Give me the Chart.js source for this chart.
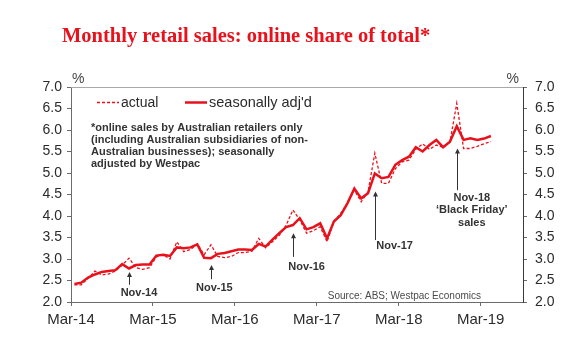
<!DOCTYPE html>
<html>
<head>
<meta charset="utf-8">
<script src="https://cdn.jsdelivr.net/npm/chart.js@4.4.1/dist/chart.umd.min.js"></script>
<style>
  html, body { margin: 0; padding: 0; background: #fff; }
  #wrap { width: 580px; height: 352px; }
</style>
</head>
<body>
<div id="wrap"><canvas id="onlineShare" width="580" height="352"></canvas></div>
<script>
// Online share of total retail sales, monthly from Mar-14 to Apr-19 (%).
const ACTUAL = [
  2.40, 2.40, 2.55, 2.72, 2.63, 2.65, 2.72, 2.86, 3.02, 2.80, 2.76, 2.80,
  3.05, 3.10, 3.00, 3.40, 3.17, 3.22, 3.35, 3.10, 3.33, 3.06, 3.03, 3.06,
  3.15, 3.15, 3.18, 3.48, 3.26, 3.40, 3.55, 3.78, 4.14, 3.91, 3.60, 3.66,
  3.75, 3.40, 3.87, 4.06, 4.30, 4.60, 4.33, 4.56, 5.46, 4.76, 4.76, 5.10,
  5.26, 5.30, 5.55, 5.68, 5.55, 5.65, 5.60, 5.72, 6.62, 5.57, 5.57, 5.62,
  5.68, 5.73
];
const SEAS_ADJ = [
  2.42, 2.45, 2.57, 2.64, 2.70, 2.72, 2.74, 2.88, 2.78, 2.86, 2.87, 2.87,
  3.08, 3.10, 3.07, 3.27, 3.25, 3.27, 3.34, 3.03, 3.02, 3.12, 3.14, 3.18,
  3.22, 3.22, 3.21, 3.35, 3.29, 3.45, 3.60, 3.74, 3.79, 3.95, 3.69, 3.74,
  3.83, 3.48, 3.87, 4.02, 4.30, 4.64, 4.41, 4.53, 4.99, 4.88, 4.91, 5.19,
  5.30, 5.38, 5.60, 5.50, 5.65, 5.77, 5.60, 5.73, 6.09, 5.77, 5.81, 5.77,
  5.80, 5.86
];
const X_TICK_MONTHS = [0, 12, 24, 36, 48, 60];
const X_TICK_LABELS = ["Mar-14", "Mar-15", "Mar-16", "Mar-17", "Mar-18", "Mar-19"];
const Y_MIN = 2.0;
const Y_MAX = 7.0;
const Y_STEP = 0.5;
// November spikes called out on the chart (month index from Mar-14).
const EVENT_MONTHS = [8, 20, 32, 44, 56];
const EVENT_LABELS = [["Nov-14"], ["Nov-15"], ["Nov-16"], ["Nov-17"], ["Nov-18", "\u2018Black Friday\u2019", "sales"]];

// Annotation placement, in axis units (months, %).
const EVENT_LAYOUT = [
  { textX: 9.96, textY: 2.20, tip: 2.70, tail: 2.40 },
  { textX: 21.0, textY: 2.32, tip: 2.86, tail: 2.53 },
  { textX: 34.5, textY: 2.81, tip: 3.60, tail: 3.05 },
  { textX: 47.4, textY: 3.30, tip: 4.57, tail: 3.44 },
  { textX: 58.7, textY: 4.43, tip: 5.57, tail: 4.60 }
];

const RED = "#e8121c";
const INK = "#2b2b2b";
const AXIS = "#6b6b6b";
const MONTH_OFFSET = 0.5; // points sit mid-month, ticks at month start
const SANS = "'Liberation Sans', Arial, sans-serif";

Chart.defaults.font.family = SANS;
Chart.defaults.color = INK;

const toPoints = (values) => values.map((v, i) => ({ x: i + MONTH_OFFSET, y: v }));

const decor = {
  id: "decor",
  afterDatasetsDraw(chart) {
    const { ctx, chartArea: area, scales: { x, y } } = chart;
    ctx.save();

    // light top frame
    ctx.strokeStyle = "#a8a8a8";
    ctx.lineWidth = 1;
    ctx.beginPath();
    ctx.moveTo(area.left, area.top + 0.5);
    ctx.lineTo(area.right, area.top + 0.5);
    ctx.stroke();

    ctx.fillStyle = RED;
    ctx.font = "bold 20.5px 'Liberation Serif', 'Times New Roman', serif";
    ctx.textBaseline = "middle";
    ctx.textAlign = "left";
    ctx.fillText("Monthly retail sales: online share of total*", 62, 37);

    ctx.fillStyle = "#444";
    ctx.font = "14px " + SANS;
    ctx.fillText("%", 72, 79);
    ctx.textAlign = "right";
    ctx.fillText("%", 519, 79);

    // legend
    ctx.strokeStyle = RED;
    ctx.lineWidth = 1.3;
    ctx.setLineDash([3, 2]);
    ctx.beginPath();
    ctx.moveTo(97, 102.5);
    ctx.lineTo(119, 102.5);
    ctx.stroke();
    ctx.setLineDash([]);
    ctx.lineWidth = 2.5;
    ctx.beginPath();
    ctx.moveTo(185, 102.5);
    ctx.lineTo(207, 102.5);
    ctx.stroke();
    ctx.fillStyle = INK;
    ctx.textAlign = "left";
    ctx.font = "14px " + SANS;
    ctx.fillText("actual", 121, 103);
    ctx.font = "14.5px " + SANS;
    ctx.fillText("seasonally adj'd", 209, 103);

    // footnote
    ctx.font = "bold 11px " + SANS;
    ctx.fillStyle = "#333";
    [
      "*online sales by Australian retailers only",
      "(including Australian subsidiaries of non-",
      "Australian businesses); seasonally",
      "adjusted by Westpac"
    ].forEach((line, i) => ctx.fillText(line, 91, 128 + i * 12));

    // source
    ctx.font = "10px " + SANS;
    ctx.fillStyle = "#4a4a4a";
    ctx.textAlign = "right";
    ctx.fillText("Source: ABS; Westpac Economics", 481, 296);

    // event arrows and labels
    ctx.strokeStyle = "#333";
    ctx.fillStyle = "#333";
    ctx.lineWidth = 1;
    EVENT_MONTHS.forEach((month, i) => {
      const lay = EVENT_LAYOUT[i];
      const ax = Math.round(x.getPixelForValue(month + MONTH_OFFSET)) + 0.5;
      const tipY = y.getPixelForValue(lay.tip);
      const tailY = y.getPixelForValue(lay.tail);
      ctx.beginPath();
      ctx.moveTo(ax, tailY);
      ctx.lineTo(ax, tipY + 4);
      ctx.stroke();
      ctx.beginPath();
      ctx.moveTo(ax, tipY);
      ctx.lineTo(ax - 2.5, tipY + 5);
      ctx.lineTo(ax + 2.5, tipY + 5);
      ctx.closePath();
      ctx.fill();

      ctx.font = "bold 11px " + SANS;
      ctx.textAlign = "center";
      const tx = x.getPixelForValue(lay.textX);
      const ty = y.getPixelForValue(lay.textY);
      EVENT_LABELS[i].forEach((line, j) => ctx.fillText(line, tx, ty + j * 12.5));
    });

    ctx.restore();
  }
};

const yTicks = (position, width, padding) => ({
  type: "linear",
  position,
  min: Y_MIN,
  max: Y_MAX,
  afterFit: (scale) => { scale.width = width; },
  grid: { drawOnChartArea: false, drawTicks: true, tickLength: 4, color: AXIS },
  border: { display: true, color: position === "left" ? AXIS : "#3a3a3a", width: 1 },
  ticks: {
    stepSize: Y_STEP,
    padding,
    color: INK,
    font: { size: 14 },
    callback: (value) => value.toFixed(1)
  }
});

new Chart(document.getElementById("onlineShare"), {
  type: "line",
  data: {
    datasets: [
      {
        label: "actual",
        data: toPoints(ACTUAL),
        borderColor: RED,
        borderWidth: 1.3,
        borderDash: [3, 2],
        pointRadius: 0,
        tension: 0,
        yAxisID: "y"
      },
      {
        label: "seasonally adj'd",
        data: toPoints(SEAS_ADJ),
        borderColor: RED,
        borderWidth: 2.5,
        pointRadius: 0,
        tension: 0,
        yAxisID: "y"
      }
    ]
  },
  options: {
    responsive: false,
    animation: false,
    devicePixelRatio: 1,
    layout: { padding: { top: 87, right: 0, bottom: 0, left: 0 } },
    plugins: {
      legend: { display: false },
      title: { display: false },
      tooltip: { enabled: false }
    },
    scales: {
      x: {
        type: "linear",
        min: 0,
        max: 66.2,
        afterFit: (scale) => { scale.height = 50; },
        afterBuildTicks: (scale) => {
          scale.ticks = X_TICK_MONTHS.map((value) => ({ value }));
        },
        grid: { drawOnChartArea: false, drawTicks: true, tickLength: 4, color: AXIS },
        border: { display: true, color: AXIS, width: 1 },
        ticks: {
          padding: 5,
          color: INK,
          font: { size: 15 },
          maxRotation: 0,
          callback: (value, index) => X_TICK_LABELS[index]
        }
      },
      y: yTicks("left", 71, 5),
      y2: yTicks("right", 57, 8)
    }
  },
  plugins: [decor]
});
</script>
</body>
</html>
